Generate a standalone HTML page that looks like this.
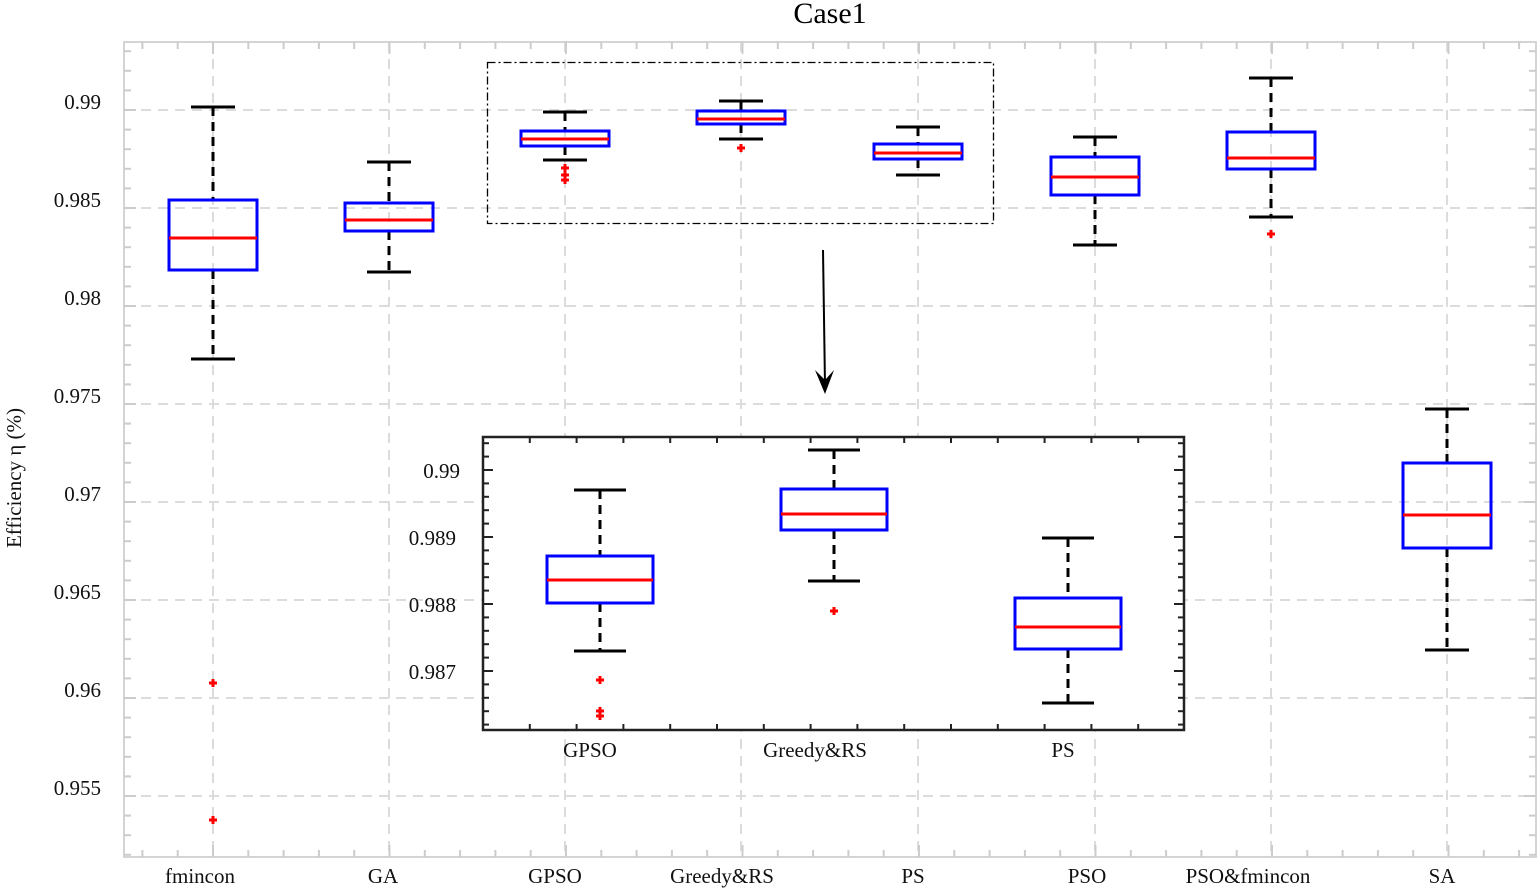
<!DOCTYPE html>
<html><head><meta charset="utf-8"><style>
body{margin:0;background:#fff;}
svg{display:block;font-family:"Liberation Serif",serif;}
</style></head><body>
<svg id="s" width="1537" height="891" xmlns="http://www.w3.org/2000/svg">
<g id="grid"></g>
<rect x="124" y="42" width="1412" height="815" fill="none" stroke="#d4d4d4" stroke-width="2"/>
<g id="ticks"></g>
<g id="boxes"></g>
<rect x="487.5" y="62.5" width="506" height="161" fill="none" stroke="#000" stroke-width="1.3" stroke-dasharray="8,3,2,3"/>
<line x1="823" y1="250" x2="825" y2="385" stroke="#000" stroke-width="2"/>
<path d="M815,370 L825,394 L834,370 L825,380 Z" fill="#000"/>
<rect x="483" y="437" width="701" height="293" fill="#fff" stroke="#222" stroke-width="2.5"/>
<g id="inset"></g>
<text x="830" y="23" font-size="30" text-anchor="middle">Case1</text>
<g font-size="21" text-anchor="end" fill="#111">
<text x="101" y="109">0.99</text><text x="101" y="207">0.985</text><text x="101" y="305">0.98</text>
<text x="101" y="403">0.975</text><text x="101" y="501">0.97</text><text x="101" y="599">0.965</text>
<text x="101" y="697">0.96</text><text x="101" y="795">0.955</text>
<text x="460" y="478">0.99</text><text x="456" y="545">0.989</text><text x="456" y="612">0.988</text><text x="456" y="679">0.987</text>
</g>
<g font-size="21" text-anchor="middle" fill="#111">
<text x="200" y="883">fmincon</text><text x="383" y="883">GA</text><text x="555" y="883">GPSO</text>
<text x="722" y="883">Greedy&amp;RS</text><text x="913" y="883">PS</text><text x="1087" y="883">PSO</text>
<text x="1248" y="883">PSO&amp;fmincon</text><text x="1442" y="883">SA</text>
<text x="590" y="757">GPSO</text><text x="815" y="757">Greedy&amp;RS</text><text x="1063" y="757">PS</text>
</g>
<text transform="translate(21,478) rotate(-90)" font-size="21" text-anchor="middle" fill="#111">Efficiency η (%)</text>
</svg>
<script>
const NS="http://www.w3.org/2000/svg";
function el(p,t,a){const e=document.createElementNS(NS,t);for(const k in a)e.setAttribute(k,a[k]);document.getElementById(p).appendChild(e);return e;}
const xs=[213,389,565,741,918,1095,1271,1447];
const ys=[110,208,306,404,502,600,698,796];
ys.forEach(y=>el("grid","line",{x1:124,x2:1536,y1:y,y2:y,stroke:"#dcdcdc","stroke-width":2,"stroke-dasharray":"10,7"}));
xs.forEach(x=>el("grid","line",{x1:x,x2:x,y1:42,y2:857,stroke:"#dcdcdc","stroke-width":2,"stroke-dasharray":"10,7"}));
for(let y=796+98;y>=42;y-=19.6){if(y>857)continue;const mj=ys.some(v=>Math.abs(v-y)<2);const L=mj?12:7;
el("ticks","line",{x1:124,x2:124+L,y1:y,y2:y,stroke:"#ccc","stroke-width":2});el("ticks","line",{x1:1536,x2:1536-L,y1:y,y2:y,stroke:"#ccc","stroke-width":2});}
for(let x=213-176.5;x<1537;x+=35.3){if(x<125)continue;const mj=xs.some(v=>Math.abs(v-x)<3);const L=mj?12:7;
el("ticks","line",{x1:x,x2:x,y1:857,y2:857-L,stroke:"#ccc","stroke-width":2});el("ticks","line",{x1:x,x2:x,y1:42,y2:42+L,stroke:"#ccc","stroke-width":2});}
function box(g,x,w,top,q3,med,q1,bot,outs,cap){
el(g,"line",{x1:x,x2:x,y1:top,y2:q3,stroke:"#000","stroke-width":3,"stroke-dasharray":"9,6"});
el(g,"line",{x1:x,x2:x,y1:q1,y2:bot,stroke:"#000","stroke-width":3,"stroke-dasharray":"9,6"});
el(g,"line",{x1:x-cap,x2:x+cap,y1:top,y2:top,stroke:"#000","stroke-width":3});
el(g,"line",{x1:x-cap,x2:x+cap,y1:bot,y2:bot,stroke:"#000","stroke-width":3});
el(g,"rect",{x:x-w/2,y:q3,width:w,height:q1-q3,fill:"none",stroke:"#00f","stroke-width":3});
el(g,"line",{x1:x-w/2,x2:x+w/2,y1:med,y2:med,stroke:"#f00","stroke-width":3});
outs.forEach(o=>{el(g,"line",{x1:x-4,x2:x+4,y1:o,y2:o,stroke:"#f00","stroke-width":3});el(g,"line",{x1:x,x2:x,y1:o-4,y2:o+4,stroke:"#f00","stroke-width":3});});}
const W=88,C=22;
box("boxes",213,W,107,200,238,270,359,[683,820],C);
box("boxes",389,W,162,203,220,231,272,[],C);
box("boxes",565,W,112,131,139,146,160,[168,175,180],C);
box("boxes",741,W,101,111,119,124,139,[148],C);
box("boxes",918,W,127,144,153,159,175,[],C);
box("boxes",1095,W,137,157,177,195,245,[],C);
box("boxes",1271,W,78,132,158,169,217,[234],C);
box("boxes",1447,W,409,463,515,548,650,[],C);
for(let y=470-67;y<=730;y+=13.4){if(y<437)continue;const mj=[470,537,604,671].some(v=>Math.abs(v-y)<2);const L=mj?10:6;
el("inset","line",{x1:483,x2:483+L,y1:y,y2:y,stroke:"#222","stroke-width":2});el("inset","line",{x1:1184,x2:1184-L,y1:y,y2:y,stroke:"#222","stroke-width":2});}
for(let x=600-117;x<=1184;x+=46.8){if(x<=484||x>=1183)continue;const mj=[600,834,1068].some(v=>Math.abs(v-x)<3);const L=mj?10:6;
el("inset","line",{x1:x,x2:x,y1:437,y2:437+L,stroke:"#222","stroke-width":2});el("inset","line",{x1:x,x2:x,y1:730,y2:730-L,stroke:"#222","stroke-width":2});}
box("inset",600,106,490,556,580,603,651,[680,711,716],26);
box("inset",834,106,450,489,514,530,581,[611],26);
box("inset",1068,106,538,598,627,649,703,[],26);
</script>
</body></html>
